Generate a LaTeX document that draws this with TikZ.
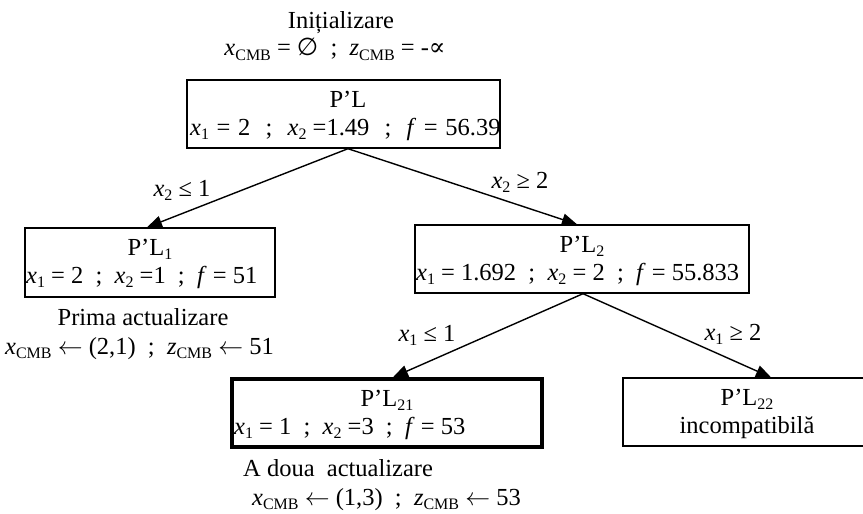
\documentclass[tikz,border=0pt]{standalone}
\usepackage{fontspec}
\setmainfont{Liberation Serif}
\newfontfamily\symf{DejaVu Serif}
\newfontfamily\symg{DejaVu Sans}
\usetikzlibrary{arrows.meta}
\newcommand\xv[2]{\textit{#1}\raisebox{-0.2em}{\fontsize{16}{16}\selectfont #2}}
\newcommand\sep{~ ;~ }
\newcommand\wsep{\hspace{3pt}~ ;~ \hspace{3pt}}
\newcommand\weq{\hspace{1.5pt} = \hspace{1.5pt}}
\newcommand\larr{$\leftarrow$}
\begin{document}
\begin{tikzpicture}[x=1pt,y=-1pt,
  font=\fontsize{24.5}{28}\selectfont,
  box/.style={draw, line width=1.4pt, inner sep=0pt},
  txt/.style={inner sep=0pt, anchor=base},
  txtl/.style={inner sep=0pt, anchor=base west},
  arr/.style={line width=1.4pt, -{Triangle[length=15pt,width=12pt]}}]
\useasboundingbox (0,0) rectangle (863,514);
% boxes
\node[box, minimum width=313pt, minimum height=68pt] (root) at (343.5,114) {};
\node[box, minimum width=250pt, minimum height=69pt] (l1) at (150,262.5) {};
\node[box, minimum width=334pt, minimum height=68pt] (l2) at (582,259) {};
\node[box, line width=3.5pt, minimum width=310pt, minimum height=68pt] (l21) at (387,413) {};
\node[box, minimum width=248pt, minimum height=68pt] (l22) at (747,412) {};
% box texts
\node[txt] (rootT) at (348,107) {P’L};
\node[txtl] (rootL) at (190,135) {\xv{x}{1}\weq 2\wsep\xv{x}{2} =1.49\wsep\textit{f}\weq 56.39};
\node[txt] (l1T) at (150,255) {P’L\raisebox{-0.2em}{\fontsize{16}{16}\selectfont 1}};
\node[txtl] (l1L) at (26,283) {\xv{x}{1} = 2\sep\xv{x}{2} =1\sep\textit{f} = 51};
\node[txt] (l2T) at (582,252) {P’L\raisebox{-0.2em}{\fontsize{16}{16}\selectfont 2}};
\node[txtl] (l2L) at (416,280) {\xv{x}{1} = 1.692\sep\xv{x}{2} = 2\sep\textit{f} = 55.833};
\node[txt] (l21T) at (387,406) {P’L\raisebox{-0.2em}{\fontsize{16}{16}\selectfont 21}};
\node[txtl] (l21L) at (234,434) {\xv{x}{1} = 1\sep\xv{x}{2} =3\sep\textit{f} = 53};
\node[txt] (l22T) at (747,405) {P’L\raisebox{-0.2em}{\fontsize{16}{16}\selectfont 22}};
\node[txt] (l22L) at (747,433) {incompatibilă};
% outer texts
\node[txt] (init) at (341,28) {Inițializare};
\node[txt] (initL) at (335,56) {\xv{x}{CMB} = {\symg ∅}\sep\xv{z}{CMB} = -{\symf ∝}};
\node[txt] (e1) at (182,196) {\xv{x}{2} ≤ 1};
\node[txt] (e2) at (520,188) {\xv{x}{2} ≥ 2};
\node[txt] (e3) at (427,341) {\xv{x}{1} ≤ 1};
\node[txt] (e4) at (733,340) {\xv{x}{1} ≥ 2};
\node[txt] (act1) at (143,325) {Prima actualizare};
\node[txtl] (act1L) at (5,354) {\xv{x}{CMB} \larr{} (2,1)\sep\xv{z}{CMB} \larr{} 51};
\node[txtl] (act2) at (243,476) {A doua~ actualizare};
\node[txtl] (act2L) at (252,505) {\xv{x}{CMB} \larr{} (1,3)\sep\xv{z}{CMB} \larr{} 53};
% connectors
\draw[arr] ([xshift=4.5pt]root.south) -- ([xshift=-3pt]l1.north);
\draw[arr] ([xshift=4.5pt]root.south) -- ([xshift=-5pt]l2.north);
\draw[arr] ([xshift=1pt]l2.south) -- ([xshift=6pt]l21.north);
\draw[arr] ([xshift=1pt]l2.south) -- ([xshift=24pt]l22.north);
\end{tikzpicture}
\end{document}
